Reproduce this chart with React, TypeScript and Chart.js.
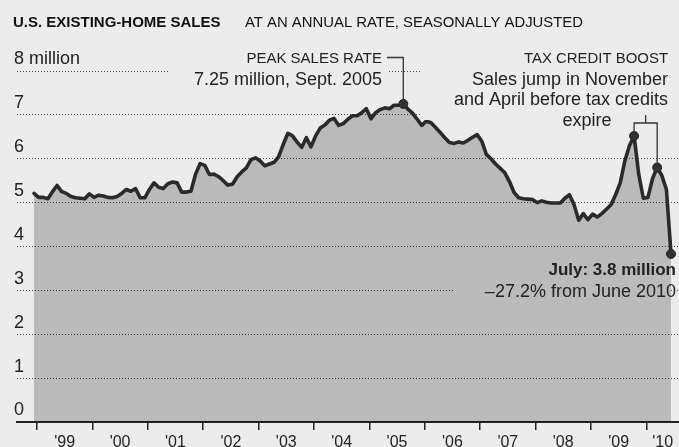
import React, { useEffect, useRef } from 'react';
import { Chart, registerables } from 'chart.js';

Chart.register(...registerables);

// ---------- data ----------
const startYear = 1999; // first month: January 1999
// Existing-home sales, millions, seasonally adjusted annual rate, Jan 1999 – Jul 2010
const sales = [
  5.21, 5.12, 5.12, 5.09, 5.25, 5.39, 5.25, 5.21, 5.14, 5.11, 5.10, 5.09,
  5.20, 5.12, 5.17, 5.15, 5.12, 5.11, 5.14, 5.21, 5.30, 5.26, 5.32, 5.11,
  5.11, 5.30, 5.45, 5.35, 5.32, 5.43, 5.47, 5.45, 5.24, 5.24, 5.26, 5.65,
  5.89, 5.85, 5.64, 5.65, 5.59, 5.50, 5.40, 5.42, 5.59, 5.70, 5.79, 5.98,
  6.02, 5.95, 5.84, 5.88, 5.92, 6.05, 6.33, 6.58, 6.52, 6.38, 6.26, 6.48,
  6.27, 6.52, 6.70, 6.77, 6.88, 6.92, 6.76, 6.80, 6.90, 6.98, 6.98, 7.05,
  7.14, 6.91, 7.05, 7.12, 7.16, 7.14, 7.22, 7.22, 7.25, 7.13, 7.04, 6.90,
  6.76, 6.86, 6.82, 6.71, 6.60, 6.48, 6.37, 6.35, 6.38, 6.36, 6.42, 6.49,
  6.55, 6.40, 6.10, 6.00, 5.88, 5.78, 5.68, 5.48, 5.23, 5.11, 5.09, 5.08,
  5.07, 5.00, 5.04, 5.01, 4.99, 4.99, 4.99, 5.10, 5.18, 4.95, 4.60, 4.75,
  4.61, 4.74, 4.67, 4.75, 4.85, 4.95, 5.18, 5.45, 5.95, 6.30, 6.52, 5.65,
  5.10, 5.12, 5.55, 5.80, 5.62, 5.30, 3.83,
];
const highlighted = [80, 130, 135, 138]; // Sept 2005 peak, Nov 2009, Apr 2010, Jul 2010
const yearLabels = ["'99", "'00", "'01", "'02", "'03", "'04", "'05", "'06", "'07", "'08", "'09", "'10"];
const yTickLabels = ['0', '1', '2', '3', '4', '5', '6', '7', '8 million'];

const titleBold = 'U.S. EXISTING-HOME SALES';
const titleRest = 'AT AN ANNUAL RATE, SEASONALLY ADJUSTED';
const peakNote = ['PEAK SALES RATE', '7.25 million, Sept. 2005'];
const taxNote = ['TAX CREDIT BOOST', 'Sales jump in November', 'and April before tax credits', 'expire'];
const julyNote = ['July: 3.8 million', '\u201327.2% from June 2010'];

// ---------- styling ----------
const FONT = '"Liberation Sans", Arial, Helvetica, sans-serif';
const BG = '#ececec';
const FILL = 'rgba(0,0,0,0.21)';
const FILL_SOLID = 'rgb(187,187,187)';
const INK = '#222222';
const X_MIN = 1998.693;
const X_MAX = 2010.644;
const TICK_SHIFT = 0.054;

const points = sales.map((v, i) => ({ x: startYear + i / 12, y: v }));

const noPad = (s: any) => {
  s.paddingLeft = 0;
  s.paddingRight = 0;
  s.paddingTop = 0;
  s.paddingBottom = 0;
};

const annotationPlugin = {
  id: 'nytAnnotations',
  beforeDraw(chart: any) {
    const { ctx, width, height } = chart;
    ctx.save();
    ctx.fillStyle = BG;
    ctx.fillRect(0, 0, width, height);
    ctx.restore();
  },
  afterDatasetsDraw(chart: any) {
    const { ctx } = chart;
    const meta = chart.getDatasetMeta(0);
    const pk = meta.data[highlighted[0]];
    const nov = meta.data[highlighted[1]];
    const apr = meta.data[highlighted[2]];
    const jul = meta.data[highlighted[3]];
    ctx.save();

    // knock-out boxes behind the annotation text
    ctx.fillStyle = BG;
    ctx.fillRect(168, 46, 221, 46);
    ctx.fillRect(421, 46, 258, 74);
    ctx.fillRect(562, 116, 50, 16);
    ctx.fillStyle = FILL_SOLID;
    ctx.fillRect(453, 259, jul.x - 453, 42);

    // title
    ctx.fillStyle = '#111';
    ctx.textBaseline = 'alphabetic';
    ctx.textAlign = 'left';
    ctx.font = `bold 15px ${FONT}`;
    ctx.fillText(titleBold, 13, 27, 216);
    ctx.font = `15px ${FONT}`;
    ctx.fillText(titleRest, 245, 27, 338);

    // peak note
    ctx.fillStyle = INK;
    ctx.textAlign = 'right';
    ctx.font = `15px ${FONT}`;
    ctx.fillText(peakNote[0], 382, 63, 136);
    ctx.font = `18px ${FONT}`;
    ctx.fillText(peakNote[1], 382, 85, 205);

    // tax credit note
    ctx.font = `15px ${FONT}`;
    ctx.fillText(taxNote[0], 668, 63, 144);
    ctx.font = `18px ${FONT}`;
    ctx.fillText(taxNote[1], 668, 85, 204);
    ctx.fillText(taxNote[2], 668, 105, 224);
    ctx.textAlign = 'center';
    ctx.fillText(taxNote[3], 587, 126);

    // July note
    ctx.textAlign = 'right';
    ctx.font = `bold 17px ${FONT}`;
    ctx.fillText(julyNote[0], 676, 275, 138);
    ctx.font = `18px ${FONT}`;
    ctx.fillText(julyNote[1], 676, 297, 204);

    // leader lines
    ctx.strokeStyle = '#333';
    ctx.lineWidth = 1.3;
    ctx.beginPath();
    ctx.moveTo(387, 57.5);
    ctx.lineTo(pk.x, 57.5);
    ctx.lineTo(pk.x, pk.y - 4);
    ctx.stroke();

    const ly = 123;
    ctx.beginPath();
    ctx.moveTo(nov.x, nov.y - 4);
    ctx.lineTo(nov.x, ly);
    ctx.lineTo(apr.x, ly);
    ctx.lineTo(apr.x, apr.y - 4);
    ctx.moveTo((nov.x + apr.x) / 2, ly);
    ctx.lineTo((nov.x + apr.x) / 2, 115);
    ctx.stroke();

    ctx.restore();
  },
};

export default function App() {
  const ref = useRef<HTMLCanvasElement | null>(null);

  useEffect(() => {
    document.body.style.margin = '0';
    document.body.style.background = BG;
    const canvas = ref.current;
    if (!canvas) return;
    const chart = new Chart(canvas, {
      type: 'line',
      data: {
        datasets: [
          {
            data: points,
            borderColor: '#2a2a2a',
            borderWidth: 3.6,
            borderJoinStyle: 'round',
            borderCapStyle: 'round',
            backgroundColor: FILL,
            fill: 'origin',
            tension: 0,
            clip: 8,
            pointRadius: (c: any) => (highlighted.includes(c.dataIndex) ? 4.5 : 0),
            pointBackgroundColor: '#333',
            pointBorderColor: '#222',
            pointBorderWidth: 1,
            xAxisID: 'x',
            yAxisID: 'y',
          } as any,
        ],
      },
      options: {
        responsive: false,
        maintainAspectRatio: false,
        animation: false,
        events: [],
        layout: { autoPadding: false, padding: { top: 71, left: 17, right: 0, bottom: 0 } },
        plugins: { legend: { display: false }, tooltip: { enabled: false }, title: { display: false } },
        scales: {
          x: {
            type: 'linear',
            position: 'bottom',
            weight: 0,
            min: X_MIN,
            max: X_MAX,
            afterBuildTicks: (s: any) => {
              s.ticks = yearLabels.map((_, k) => ({ value: startYear + k + TICK_SHIFT }));
            },
            afterFit: (s: any) => {
              s.height = 8;
              noPad(s);
            },
            ticks: { display: false },
            grid: { display: true, drawOnChartArea: false, drawTicks: true, tickLength: 8, color: INK, lineWidth: 1.5 },
            border: { display: true, color: INK, width: 2 },
          },
          xl: {
            type: 'linear',
            position: 'bottom',
            weight: 1,
            min: X_MIN,
            max: X_MAX,
            afterBuildTicks: (s: any) => {
              s.ticks = yearLabels.map((_, k) => {
                const a = startYear + k + TICK_SHIFT;
                const b = Math.min(a + 1, X_MAX);
                return { value: (a + b) / 2 };
              });
            },
            afterFit: (s: any) => {
              s.height = 17;
              noPad(s);
            },
            ticks: {
              autoSkip: false,
              maxRotation: 0,
              padding: -3,
              color: INK,
              font: { family: FONT, size: 16, lineHeight: 1 },
              callback: (_v: any, idx: number) => yearLabels[idx],
            },
            grid: { display: false },
            border: { display: false },
          },
          y: {
            type: 'linear',
            position: 'left',
            min: 0,
            max: 8,
            afterFit: (s: any) => {
              s.width = 0;
              noPad(s);
            },
            ticks: {
              stepSize: 1,
              mirror: true,
              padding: -3,
              labelOffset: -11.5,
              color: INK,
              font: { family: FONT, size: 18 },
              callback: (v: any) => yTickLabels[Number(v)] ?? '',
            },
            grid: { color: '#4a4a4a', lineWidth: 1, drawTicks: false },
            border: { display: false, dash: [1, 2] },
          },
        },
      } as any,
      plugins: [annotationPlugin],
    });
    return () => chart.destroy();
  }, []);

  return (
    <div style={{ width: 679, height: 447, background: BG }}>
      <canvas ref={ref} width={679} height={447} style={{ display: 'block' }} />
    </div>
  );
}
